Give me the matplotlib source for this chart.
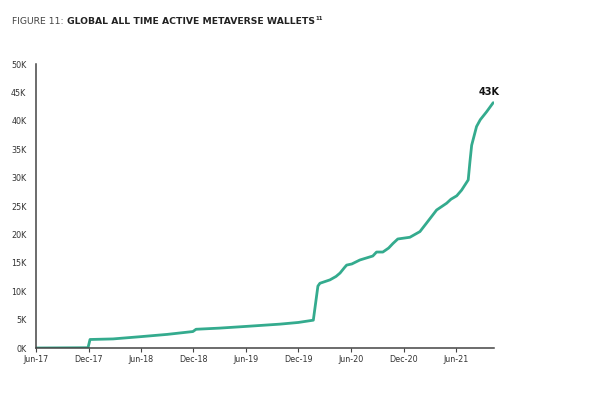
import matplotlib
matplotlib.use("Agg")
import matplotlib.pyplot as plt
import matplotlib.dates as mdates
import matplotlib.ticker as mticker
import pandas as pd

# Wallet counts (thousands)
dates = [
    "2017-06-01", "2017-11-29", "2017-12-06", "2018-02-24", "2018-06-01",
    "2018-09-01", "2018-11-29", "2018-12-10", "2019-03-01", "2019-06-01",
    "2019-09-27", "2019-12-01", "2020-01-09", "2020-01-22", "2020-02-07",
    "2020-02-14", "2020-03-20", "2020-04-10", "2020-04-24", "2020-05-10",
    "2020-05-17", "2020-06-04", "2020-07-02", "2020-08-16", "2020-08-29",
    "2020-09-20", "2020-10-10", "2020-10-25", "2020-11-11", "2020-12-23",
    "2021-01-27", "2021-02-19", "2021-03-26", "2021-04-30", "2021-05-15",
    "2021-06-04", "2021-06-21", "2021-07-14", "2021-07-20", "2021-07-26",
    "2021-08-12", "2021-08-25", "2021-09-16", "2021-10-09",
]
wallets_k = [
    0.0, 0.05, 1.5, 1.6, 2.0,
    2.4, 2.9, 3.3, 3.5, 3.8,
    4.2, 4.5, 4.8, 4.9, 10.9,
    11.4, 12.0, 12.6, 13.2, 14.2,
    14.6, 14.8, 15.5, 16.2, 16.9,
    16.9, 17.6, 18.4, 19.2, 19.5,
    20.5, 22.0, 24.3, 25.5, 26.2,
    26.8, 27.8, 29.6, 32.8, 35.7,
    39.0, 40.2, 41.6, 43.2,
]
tick_dates = ["2017-06-01", "2017-12-01", "2018-06-01", "2018-12-01", "2019-06-01",
              "2019-12-01", "2020-06-01", "2020-12-01", "2021-06-01"]
y_ticks = [0, 5, 10, 15, 20, 25, 30, 35, 40, 45, 50]
end_label = "43K"

x = pd.to_datetime(dates)
ticks = pd.to_datetime(tick_dates)

fig = plt.figure(figsize=(6.04, 3.96), dpi=100)
ax = fig.add_axes([0.0596, 0.1212, 0.7584, 0.717])

ax.plot(x, wallets_k, color="#34ab8e", linewidth=2.0, solid_capstyle="round")

ax.set_xlim(pd.Timestamp("2017-06-01"), pd.Timestamp("2021-10-12"))
ax.set_ylim(0, 50)
ax.set_xticks(ticks)
ax.xaxis.set_major_formatter(mdates.DateFormatter("%b-%y"))
ax.set_yticks(y_ticks)
ax.yaxis.set_major_formatter(mticker.FuncFormatter(lambda v, p: f"{int(v)}K"))

for s in ["top", "right"]:
    ax.spines[s].set_visible(False)
for s in ["left", "bottom"]:
    ax.spines[s].set_color("#444444")
    ax.spines[s].set_linewidth(1.1)
ax.tick_params(axis="y", length=0, pad=7, labelsize=5.8, labelcolor="#333333")
ax.tick_params(axis="x", length=3, width=0.8, color="#444444", pad=2,
               labelsize=5.8, labelcolor="#333333")

# label at the end of the line
ax.annotate(end_label, (x[-1], wallets_k[-1]), xytext=(-3, 4), textcoords="offset points",
            ha="center", va="bottom", fontsize=7, fontweight="bold", color="#111111")

# title in two weights
t1 = fig.text(12 / 604, 1 - 24 / 396, "FIGURE 11: ", fontsize=6.7, color="#444444")
fig.canvas.draw()
bb = t1.get_window_extent()
t2 = fig.text(bb.x1 / 604, 1 - 24 / 396, "GLOBAL ALL TIME ACTIVE METAVERSE WALLETS",
              fontsize=6.7, fontweight="bold", color="#222222")
fig.canvas.draw()
bb2 = t2.get_window_extent()
fig.text(bb2.x1 / 604 + 0.002, 1 - 20 / 396, "11", fontsize=3.8, fontweight="bold", color="#222222")

fig.savefig("out.png", dpi=100)
